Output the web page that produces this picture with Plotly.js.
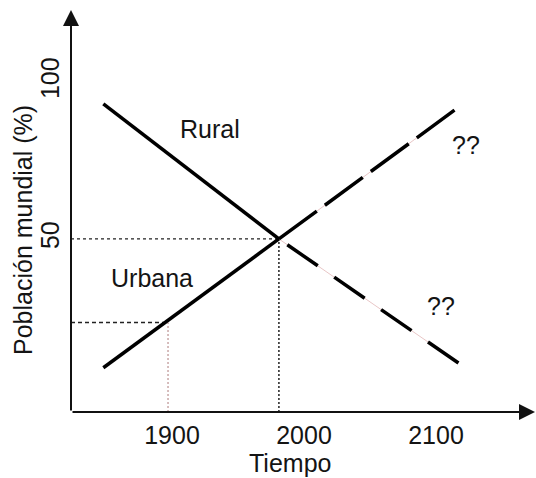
<!DOCTYPE html>
<html>
<head>
<meta charset="utf-8">
<script src="https://cdn.plot.ly/plotly-3.0.1.min.js"></script>
<style>html,body{margin:0;padding:0;background:#fff;}#chart{width:536px;height:478px;}</style>
</head>
<body>
<div id="chart"></div>
<script>
// Data (x: year, y: % of world population)
const ruralSolidX = [1848, 1981];
const ruralSolidY = [93, 50];
const ruralDashX = [2117, 1981];
const ruralDashY = [10.5, 50];
const urbanSolidX = [1848, 1981];
const urbanSolidY = [9, 50];
const urbanDashX = [1981, 2114];
const urbanDashY = [50, 91];
const guide50X = [1823.5, 1981];
const guide50Y = [50, 50];
const guide1900X = [1823.5, 1897];
const guide1900Y = [23.4, 23.4];
const xTickVals = [1900, 2000, 2100];
const xTickText = ['1900', '2000', '2100'];
const yTickVals = [50, 100];
const yTickText = ['50', '100'];

const XMIN = 1823.5, XMAX = 2175, YMIN = -5.1, YMAX = 122.9;
const FONT = 'Liberation Sans, Arial, sans-serif';
const TXT = '#141414';

const traces = [
  {x: guide50X, y: guide50Y, mode: 'lines', line: {color: '#222', width: 1.3, dash: '3px,3px'}},
  {x: [guide50X[1], guide50X[1]], y: [YMIN, guide50Y[1]], mode: 'lines', line: {color: '#222', width: 1.5, dash: '2px,2px'}},
  {x: guide1900X, y: guide1900Y, mode: 'lines', line: {color: '#222', width: 1.3, dash: '4px,3px'}},
  {x: [guide1900X[1], guide1900X[1]], y: [YMIN, guide1900Y[1]], mode: 'lines', line: {color: '#c09a9a', width: 1.3, dash: '2px,2px'}},
  {x: ruralDashX, y: ruralDashY, mode: 'lines', line: {color: '#e8c6c6', width: 1}},
  {x: urbanDashX, y: urbanDashY, mode: 'lines', line: {color: '#e8c6c6', width: 1}},
  {x: ruralSolidX, y: ruralSolidY, mode: 'lines', line: {color: '#000', width: 3.5}},
  {x: urbanSolidX, y: urbanSolidY, mode: 'lines', line: {color: '#000', width: 3.5}},
  {x: ruralDashX, y: ruralDashY, mode: 'lines', line: {color: '#000', width: 3.5, dash: '37px,20px'}},
  {x: urbanDashX, y: urbanDashY, mode: 'lines', line: {color: '#000', width: 3.5, dash: '47px,10px'}}
];

const annFont = {family: FONT, size: 25, color: TXT};
const layout = {
  width: 536, height: 478,
  margin: {l: 71, r: 1, t: 10, b: 66},
  paper_bgcolor: '#fff', plot_bgcolor: '#fff',
  showlegend: false,
  xaxis: {range: [XMIN, XMAX], showgrid: false, zeroline: false, showline: false,
    tickvals: xTickVals, ticktext: xTickText, ticks: '', ticklabelstandoff: 6,
    tickfont: {family: FONT, size: 25, color: TXT}, fixedrange: true},
  yaxis: {range: [YMIN, YMAX], showgrid: false, zeroline: false, showline: false,
    tickvals: yTickVals, ticktext: yTickText, ticks: '', tickangle: -90, ticklabelstandoff: 6,
    tickfont: {family: FONT, size: 25, color: TXT}, fixedrange: true},
  annotations: [
    {x: XMIN, y: YMAX, xref: 'x', yref: 'y', ax: XMIN, ay: YMIN, axref: 'x', ayref: 'y',
     text: '', showarrow: true, arrowhead: 2, arrowsize: 1.6, arrowwidth: 2, arrowcolor: '#111', standoff: 0},
    {x: XMAX, y: YMIN, xref: 'x', yref: 'y', ax: XMIN, ay: YMIN, axref: 'x', ayref: 'y',
     text: '', showarrow: true, arrowhead: 2, arrowsize: 1.6, arrowwidth: 2, arrowcolor: '#111', standoff: 0},
    {x: 1929, y: 85, xref: 'x', yref: 'y', text: 'Rural', showarrow: false, font: annFont},
    {x: 1885, y: 37.5, xref: 'x', yref: 'y', text: 'Urbana', showarrow: false, font: annFont},
    {x: 2123, y: 80, xref: 'x', yref: 'y', text: '??', showarrow: false, font: annFont},
    {x: 2104, y: 28.5, xref: 'x', yref: 'y', text: '??', showarrow: false, font: annFont},
    {x: 290, y: 463, xref: 'paper', yref: 'paper', text: 'Tiempo', showarrow: false, font: annFont},
    {x: 23, y: 230, xref: 'paper', yref: 'paper', text: 'Población mundial (%)', textangle: -90, showarrow: false, font: annFont}
  ]
};
// convert the two pixel-placed titles into paper coordinates
const pw = 536 - 71 - 1, ph = 478 - 10 - 66;
layout.annotations[6].x = (290 - 71) / pw; layout.annotations[6].y = (412 - 463) / ph;
layout.annotations[7].x = (23 - 71) / pw; layout.annotations[7].y = (412 - 230) / ph;
layout.annotations[6].xanchor = 'center'; layout.annotations[6].yanchor = 'middle';
layout.annotations[7].xanchor = 'center'; layout.annotations[7].yanchor = 'middle';

Plotly.newPlot('chart', traces, layout, {staticPlot: true, displayModeBar: false});
</script>
</body>
</html>
